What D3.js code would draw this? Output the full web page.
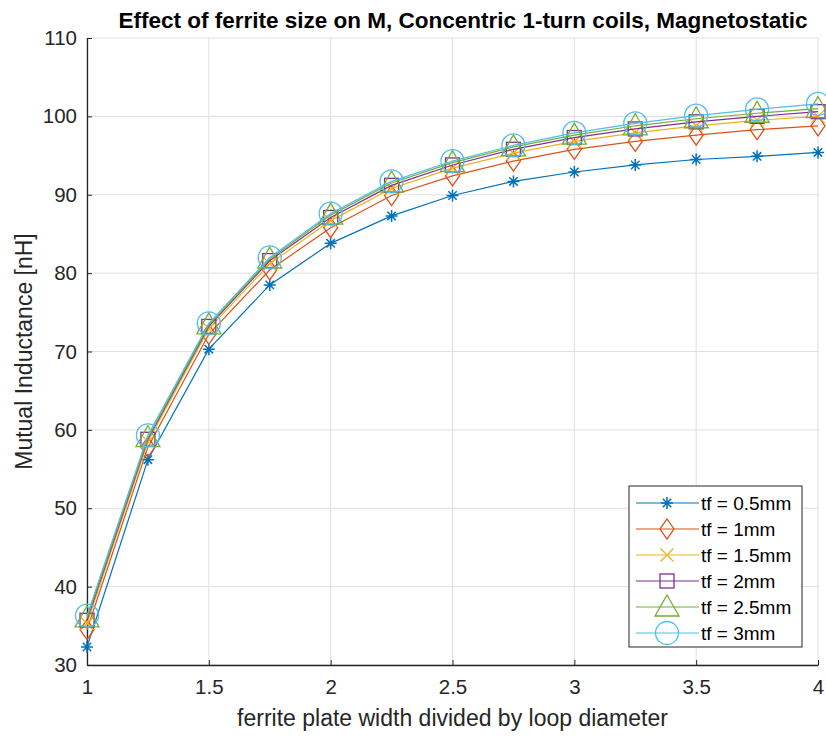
<!DOCTYPE html>
<html>
<head>
<meta charset="utf-8">
<script src="https://cdn.jsdelivr.net/npm/d3@7"></script>
<style>
  body { margin: 0; background: #fff; }
  svg { display: block; font-family: "Liberation Sans", Arial, sans-serif; }
</style>
</head>
<body>
<div id="chart"></div>
<script>
// Data
var widths = [1, 1.25, 1.5, 1.75, 2, 2.25, 2.5, 2.75, 3, 3.25, 3.5, 3.75, 4];
var tf05 = [32.3, 56.2, 70.3, 78.5, 83.8, 87.3, 89.9, 91.7, 92.9, 93.8, 94.5, 94.9, 95.4];
var tf1  = [34.5, 57.8, 72.2, 80.4, 85.8, 89.9, 92.4, 94.3, 95.8, 96.8, 97.6, 98.3, 98.8];
var tf15 = [35.3, 58.5, 72.9, 81.2, 86.7, 90.8, 93.4, 95.3, 96.8, 97.9, 98.8, 99.5, 100.0];
var tf2  = [35.7, 58.8, 73.2, 81.6, 87.1, 91.2, 93.8, 95.8, 97.3, 98.4, 99.3, 100.0, 100.6];
var tf25 = [36.0, 59.0, 73.4, 81.8, 87.4, 91.5, 94.1, 96.1, 97.6, 98.8, 99.7, 100.4, 101.0];
var tf3  = [36.3, 59.3, 73.6, 82.0, 87.6, 91.7, 94.3, 96.3, 97.9, 99.1, 100.1, 100.9, 101.6];
var seriesNames = ["tf = 0.5mm", "tf = 1mm", "tf = 1.5mm", "tf = 2mm", "tf = 2.5mm", "tf = 3mm"];
var xTicks = [1, 1.5, 2, 2.5, 3, 3.5, 4];
var yTicks = [30, 40, 50, 60, 70, 80, 90, 100, 110];

var allSeries = [tf05, tf1, tf15, tf2, tf25, tf3];
var colors = ["#0072BD", "#D95319", "#EDB120", "#7E2F8E", "#77AC30", "#4DBEEE"];
var markers = ["star", "diamond", "x", "square", "triangle", "circle"];

var svgWidth = 826, svgHeight = 736;
var margin = { top: 38, right: 8, bottom: 71, left: 87 };
var width = svgWidth - margin.left - margin.right;
var height = svgHeight - margin.top - margin.bottom;

var svg = d3.select("#chart").append("svg")
  .attr("width", svgWidth)
  .attr("height", svgHeight);

var chartGroup = svg.append("g")
  .attr("transform", `translate(${margin.left}, ${margin.top})`);

var xScale = d3.scaleLinear().domain([1, 4]).range([0, width]);
var yScale = d3.scaleLinear().domain([30, 110]).range([height, 0]);

// Grid
chartGroup.append("g").selectAll("line")
  .data(xTicks).enter().append("line")
  .attr("x1", d => xScale(d)).attr("x2", d => xScale(d))
  .attr("y1", 0).attr("y2", height)
  .attr("stroke", "#dfdfdf").attr("stroke-width", 1);
chartGroup.append("g").selectAll("line")
  .data(yTicks).enter().append("line")
  .attr("x1", 0).attr("x2", width)
  .attr("y1", d => yScale(d)).attr("y2", d => yScale(d))
  .attr("stroke", "#dfdfdf").attr("stroke-width", 1);

// Axes (ticks inward, MATLAB style)
var xAxis = d3.axisBottom(xScale).tickValues(xTicks).tickSizeInner(-5).tickSizeOuter(0).tickPadding(14)
  .tickFormat(d3.format("~g"));
var yAxis = d3.axisLeft(yScale).tickValues(yTicks).tickSizeInner(-5).tickSizeOuter(0).tickPadding(10);

var gx = chartGroup.append("g").attr("transform", `translate(0,${height})`).call(xAxis);
var gy = chartGroup.append("g").call(yAxis);
[gx, gy].forEach(function (g) {
  g.select(".domain").attr("stroke", "#262626").attr("stroke-width", 1.3);
  g.selectAll(".tick line").attr("stroke", "#262626");
  g.selectAll(".tick text").attr("fill", "#262626").style("font-size", "20.5px")
    .style("font-family", "'Liberation Sans', Arial, sans-serif");
});

// Marker drawing
function drawMarker(g, type, color) {
  if (type === "star") {
    var r = 6;
    g.append("path").attr("d", `M${-r},0H${r}M0,${-r}V${r}M${-r*0.7},${-r*0.7}L${r*0.7},${r*0.7}M${-r*0.7},${r*0.7}L${r*0.7},${-r*0.7}`)
      .attr("stroke", color).attr("stroke-width", 1.5).attr("fill", "none");
  } else if (type === "diamond") {
    g.append("path").attr("d", "M0,-10L7,0L0,10L-7,0Z")
      .attr("stroke", color).attr("stroke-width", 1.3).attr("fill", "none");
  } else if (type === "x") {
    var s = 6.5;
    g.append("path").attr("d", `M${-s},${-s}L${s},${s}M${-s},${s}L${s},${-s}`)
      .attr("stroke", color).attr("stroke-width", 1.3).attr("fill", "none");
  } else if (type === "square") {
    g.append("rect").attr("x", -7).attr("y", -7).attr("width", 14).attr("height", 14)
      .attr("stroke", color).attr("stroke-width", 1.3).attr("fill", "none");
  } else if (type === "triangle") {
    g.append("path").attr("d", "M0,-12L12,9L-12,9Z")
      .attr("stroke", color).attr("stroke-width", 1.3).attr("fill", "none");
  } else if (type === "circle") {
    g.append("circle").attr("r", 11.5)
      .attr("stroke", color).attr("stroke-width", 1.3).attr("fill", "none");
  }
}

var line = d3.line()
  .x(function (d) { return xScale(d[0]); })
  .y(function (d) { return yScale(d[1]); });

allSeries.forEach(function (vals, i) {
  var pts = widths.map(function (w, j) { return [w, vals[j]]; });
  chartGroup.append("path")
    .datum(pts)
    .attr("d", line)
    .attr("fill", "none")
    .attr("stroke", colors[i])
    .attr("stroke-width", 1.2);
  chartGroup.selectAll(".m" + i)
    .data(pts).enter().append("g")
    .attr("class", "m" + i)
    .attr("transform", function (d) { return `translate(${xScale(d[0])},${yScale(d[1])})`; })
    .each(function () { drawMarker(d3.select(this), markers[i], colors[i]); });
});

// Legend
var legend = svg.append("g").attr("transform", "translate(629,486)");
legend.append("rect").attr("width", 173).attr("height", 161)
  .attr("fill", "#fff").attr("stroke", "#262626").attr("stroke-width", 1);
seriesNames.forEach(function (name, i) {
  var row = legend.append("g").attr("transform", `translate(0,${17 + i * 26})`);
  row.append("line").attr("x1", 7).attr("x2", 70).attr("y1", 0).attr("y2", 0)
    .attr("stroke", colors[i]).attr("stroke-width", 1.2);
  var m = row.append("g").attr("transform", "translate(38,0)");
  drawMarker(m, markers[i], colors[i]);
  row.append("text").attr("x", 72).attr("y", 0).attr("dy", "0.35em")
    .attr("fill", "#000").style("font-size", "19px").text(name);
});

// Title and axis labels
svg.append("text")
  .attr("x", 463).attr("y", 28)
  .attr("text-anchor", "middle")
  .style("font-size", "22.5px").style("font-weight", "bold").attr("fill", "#000")
  .text("Effect of ferrite size on M, Concentric 1-turn coils, Magnetostatic");

svg.append("text")
  .attr("x", margin.left + width / 2).attr("y", 726)
  .attr("text-anchor", "middle")
  .style("font-size", "23px").attr("fill", "#262626")
  .text("ferrite plate width divided by loop diameter");

svg.append("text")
  .attr("transform", `translate(32,${margin.top + height / 2})rotate(-90)`)
  .attr("text-anchor", "middle")
  .style("font-size", "23px").attr("fill", "#262626")
  .text("Mutual Inductance [nH]");
</script>
</body>
</html>
